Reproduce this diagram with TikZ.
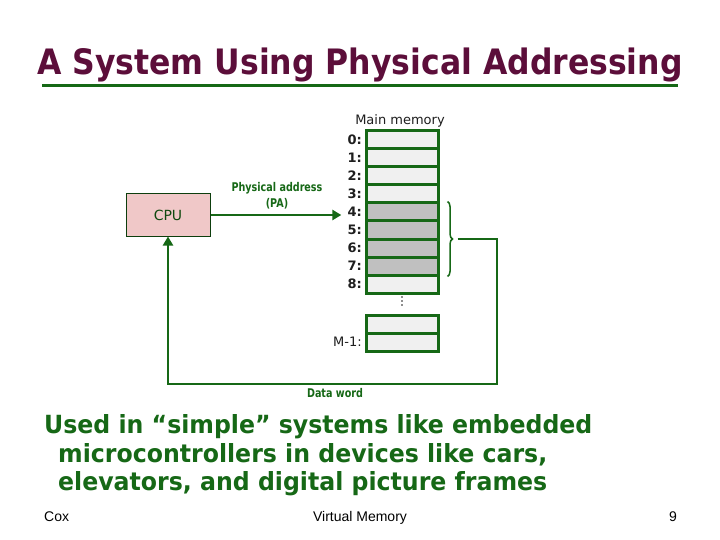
\documentclass[tikz,border=0pt]{standalone}
\usepackage{fontspec}
\setmainfont{DejaVu Sans}
\newfontfamily\titlefont[FakeStretch=0.9]{DejaVu Sans}
\newfontfamily\bodyfont[FakeStretch=0.945]{DejaVu Sans}
\newfontfamily\tagfont[FakeStretch=0.8]{DejaVu Sans}
\newfontfamily\footfont{Liberation Sans}
\usetikzlibrary{arrows.meta,positioning,calc,decorations.pathreplacing}
\definecolor{slidered}{RGB}{92,14,58}
\definecolor{slidegreen}{RGB}{22,104,22}
\definecolor{cpupink}{RGB}{240,200,200}
\definecolor{celllight}{RGB}{240,240,240}
\definecolor{celldark}{RGB}{192,192,192}
\definecolor{labeltext}{RGB}{30,30,30}

\begin{document}
\begin{tikzpicture}[x=1pt,y=-1pt,
    cell/.style={draw=slidegreen,line width=3pt,minimum width=72pt,minimum height=18pt,inner sep=0pt},
    addr/.style={anchor=east,inner sep=0pt,text=labeltext,font=\fontsize{13}{13}\selectfont\bfseries},
    bus/.style={slidegreen,line width=2.5pt},
    tip/.style={-{Triangle[length=9pt,width=10pt]}},
    tag/.style={text=slidegreen,align=center,font=\tagfont\fontsize{12}{16}\selectfont\bfseries},
    bodyline/.style={anchor=base west,inner sep=0pt,text=slidegreen,font=\bodyfont\fontsize{25}{28}\selectfont\bfseries},
    foot/.style={inner sep=0pt,font=\footfont\fontsize{14}{14}\selectfont}]
      \fill[white] (0,0) rectangle (720,540);
      \useasboundingbox (0,0) rectangle (720,540);
      % title and rule
      \node[anchor=base,inner sep=0pt,text=slidered,font=\titlefont\fontsize{35}{40}\selectfont\bfseries] (title) at (360,75) {A System Using Physical Addressing};
      \draw[slidegreen,line width=3pt] (42,86) -- (678,86);
      % main memory
      \node[anchor=base,text=labeltext,font=\fontsize{13}{15}\selectfont] (mmlabel) at (400,125) {Main memory};
      \foreach \i/\shade in {0/celllight,1/celllight,2/celllight,3/celllight,4/celldark,5/celldark,6/celldark,7/celldark,8/celllight} {
        \node[cell,fill=\shade] (m\i) at (402,140+18*\i) {};
        \node[addr] (a\i) at (362,140+18*\i) {\i:};
      }
      \foreach \d in {297,301,305} \fill[labeltext] (402,\d) circle (0.9pt);
      \node[cell,fill=celllight] (mtop) at (402,324) {};
      \node[cell,fill=celllight] (mlast) at (402,342) {};
      \node[addr,font=\fontsize{13}{13}\selectfont] (alast) at (362,342) {M-1:};
      % cpu and address bus
      \node[draw=slidegreen!60!black,line width=1pt,fill=cpupink,minimum width=84pt,minimum height=42pt,text=slidegreen!70!black,font=\fontsize{14}{14}\selectfont] (cpu) at (168,215) {CPU};
      \draw[bus,tip] (cpu.east) -- ([xshift=-6pt]cpu.east -| a4.west);
      \node[tag] (pa) at (277,196) {Physical address\\(PA)};
      % data word back to cpu
      \coordinate (btop) at ([xshift=8pt]m4.north east);
      \coordinate (bbot) at ([xshift=8pt]m7.south east);
      \draw[slidegreen,line width=1.5pt,decorate,decoration={brace,amplitude=5pt}] (btop) -- (bbot);
      \coordinate (bmid) at ($(btop)!0.5!(bbot)+(10,0)$);
      \coordinate (ret) at (497,384);
      \draw[bus,tip] (bmid) -| (ret) -- (ret -| cpu.south) -- (cpu.south);
      \node[tag] (dw) at (335,393) {Data word};
      % text below
      \node[bodyline] (line1) at (44,433) {Used in “simple” systems like embedded};
      \node[bodyline] (line2) at (58,462) {microcontrollers in devices like cars,};
      \node[bodyline] (line3) at (58,490) {elevators, and digital picture frames};
      % footer
      \node[foot,anchor=base west] (cox) at (44,521) {Cox};
      \node[foot,anchor=base] (vm) at (360,521) {Virtual Memory};
      \node[foot,anchor=base east] (page) at (677,521) {9};
\end{tikzpicture}
\end{document}
